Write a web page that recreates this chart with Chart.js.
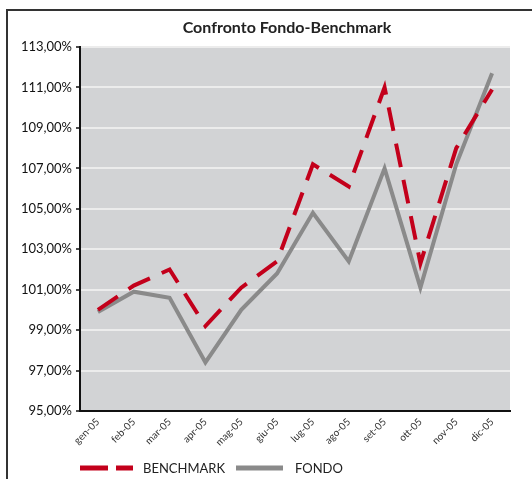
<!DOCTYPE html>
<html lang="it">
<head>
    <meta charset="UTF-8">
    <title>Confronto Fondo-Benchmark</title>
    <style>
        body {
            margin: 0;
            padding: 0;
            background: #fff;
        }
        .wrap {
            position: relative;
            width: 532px;
            height: 479px;
        }
        .frame {
            position: absolute;
            left: 6px;
            top: 9px;
            right: 0;
            bottom: 0;
            border-left: 2px solid #333;
            border-top: 2px solid #333;
        }
        canvas {
            position: absolute;
            left: 0;
            top: 0;
        }
    </style>
</head>
<body>
    <div class="wrap">
        <div class="frame"></div>
        <canvas id="chart" width="532" height="479"></canvas>
    </div>

    <script src="https://cdn.jsdelivr.net/npm/chart.js"></script>
    <script>
        // dati
        const mesi = ['gen-05', 'feb-05', 'mar-05', 'apr-05', 'mag-05', 'giu-05',
                      'lug-05', 'ago-05', 'set-05', 'ott-05', 'nov-05', 'dic-05'];
        const benchmark = [100.0, 101.2, 102.0, 99.2, 101.1, 102.4, 107.2, 106.1, 111.0, 102.3, 108.0, 110.9];
        const fondo = [99.9, 100.9, 100.6, 97.4, 100.0, 101.8, 104.8, 102.4, 107.0, 101.1, 107.2, 111.7];
        const titolo = 'Confronto Fondo-Benchmark';

        const ROSSO = '#c3001b';
        const GRIGIO = '#8a8a8a';

        // sfondo grigio dell'area del grafico
        const sfondoPlugin = {
            id: 'sfondo',
            beforeDraw(chart) {
                const { ctx, chartArea: a } = chart;
                ctx.save();
                ctx.fillStyle = '#d2d3d5';
                ctx.fillRect(a.left, a.top, a.right - a.left, a.bottom - a.top);
                ctx.restore();
            }
        };

        // titolo centrato sull'area del grafico e legenda in basso
        const testiPlugin = {
            id: 'testi',
            afterDraw(chart) {
                const { ctx, chartArea: a } = chart;
                ctx.save();
                ctx.fillStyle = '#222';
                ctx.font = 'bold 16px Lato';
                ctx.textAlign = 'center';
                ctx.textBaseline = 'middle';
                ctx.fillText(titolo, (a.left + a.right) / 2 - 8, 28);

                const y = 468;
                const voci = [
                    { x1: 80, x2: 133, tx: 143, ds: chart.data.datasets[0], dash: [28, 8] },
                    { x1: 236, x2: 283, tx: 295, ds: chart.data.datasets[1], dash: [] }
                ];
                ctx.font = '13px Lato';
                ctx.textAlign = 'left';
                voci.forEach(v => {
                    ctx.beginPath();
                    ctx.setLineDash(v.dash);
                    ctx.strokeStyle = v.ds.borderColor;
                    ctx.lineWidth = 5;
                    ctx.moveTo(v.x1, y);
                    ctx.lineTo(v.x2, y);
                    ctx.stroke();
                    ctx.fillStyle = '#222';
                    ctx.fillText(v.ds.label, v.tx, y + 1);
                });
                ctx.restore();
            }
        };

        new Chart(document.getElementById('chart'), {
            type: 'line',
            data: {
                labels: mesi,
                datasets: [{
                    label: 'BENCHMARK',
                    data: benchmark,
                    borderColor: ROSSO,
                    borderWidth: 4,
                    borderDash: [24, 13],
                    pointRadius: 0,
                    tension: 0,
                    fill: false
                }, {
                    label: 'FONDO',
                    data: fondo,
                    borderColor: GRIGIO,
                    borderWidth: 4,
                    pointRadius: 0,
                    tension: 0,
                    fill: false
                }]
            },
            options: {
                responsive: false,
                animation: false,
                devicePixelRatio: 1,
                layout: {
                    padding: { top: 47, right: 22, bottom: 0, left: 0 }
                },
                plugins: {
                    legend: { display: false },
                    title: { display: false },
                    tooltip: { enabled: false }
                },
                scales: {
                    x: {
                        offset: true,
                        afterFit(scale) { scale.height = 68; },
                        grid: { display: false, drawTicks: false },
                        border: { color: '#111', width: 2 },
                        ticks: {
                            minRotation: 45,
                            maxRotation: 45,
                            padding: 5,
                            color: '#333',
                            font: { family: 'Lato', size: 10 }
                        }
                    },
                    y: {
                        min: 95,
                        max: 113,
                        afterFit(scale) { scale.width = 80; },
                        grid: {
                            color: '#ececec',
                            lineWidth: 2,
                            tickLength: 4,
                            tickColor: '#111',
                            tickWidth: 1.5
                        },
                        border: { color: '#111', width: 2 },
                        ticks: {
                            stepSize: 2,
                            padding: 4,
                            color: '#111',
                            font: { family: 'Lato', size: 13 },
                            callback: v => v.toFixed(2).replace('.', ',') + '%'
                        }
                    }
                }
            },
            plugins: [sfondoPlugin, testiPlugin]
        });
    </script>
</body>
</html>
